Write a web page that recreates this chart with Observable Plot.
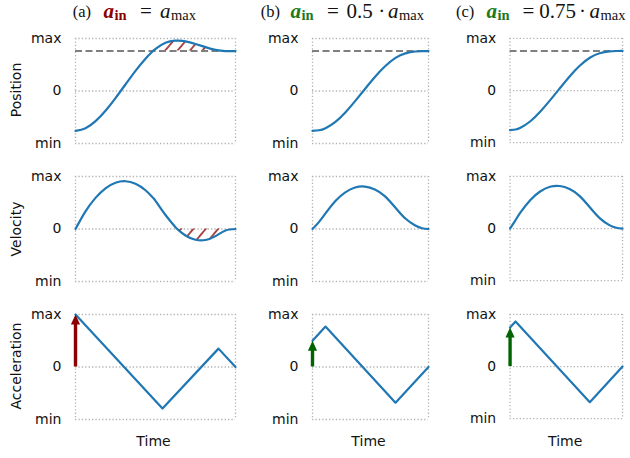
<!DOCTYPE html>
<html><head><meta charset="utf-8">
<script src="https://cdn.jsdelivr.net/npm/d3@7"></script>
<script src="https://cdn.jsdelivr.net/npm/@observablehq/plot@0.6"></script>
<style>
body{margin:0;background:#fff;}
#wrap{position:relative;width:630px;height:458px;overflow:hidden;font-family:"DejaVu Sans",sans-serif;background:#fff;}
.lab{position:absolute;font-size:14px;color:#111;white-space:nowrap;transform:translate(-50%,-50%);}
.ylab{position:absolute;font-size:14px;color:#111;white-space:nowrap;transform:translate(-50%,-50%) rotate(-90deg);}
.tp{position:absolute;font-family:"Liberation Serif",serif;white-space:nowrap;line-height:1.2;color:#111;font-size:21px;top:-1.2px;}
.tp.pre{font-size:16.5px;top:2.4px;}
.tp.ctr{transform:translateX(-50%);}
.sb{font-size:14.5px;position:relative;top:2.6px;margin-left:0.5px;}
.cell{position:absolute;}
</style></head><body><div id="wrap"></div>
<script>
// ---------- data ----------
const rowNames = ["Position", "Velocity", "Acceleration"];
const yTickValues = [-1, 0, 1];
const yTickLabels = ["min", "0", "max"];
const xLabel = "Time";
const titlePrefix = ["(a)", "(b)", "(c)"];
const titleFactor = ["", "0.5", "0.75"];
const accentColors = ["#8b0000", "#006400", "#006400"];
const titleColors = ["#8b0000", "#1b7a1b", "#1b7a1b"];
const durations = [160, 116, 113];
const targetPosition = 0.76;
const initialAcc = [1.0, 0.5, 0.75];

// panel (a)
const timeA = [0, 10, 20, 30, 40, 50, 60, 70, 77.4, 80, 90, 100, 101.75, 110, 120, 130, 140, 150, 160];
const posA  = [-0.76, -0.710, -0.574, -0.375, -0.134, 0.126, 0.384, 0.616, 0.760, 0.802, 0.919, 0.960, 0.961, 0.945, 0.896, 0.835, 0.783, 0.760, 0.760];
const velA  = [0, 0.335, 0.593, 0.775, 0.881, 0.910, 0.862, 0.738, 0.597, 0.537, 0.266, 0.033, 0, -0.124, -0.205, -0.209, -0.136, -0.027, 0];
const accTimeA = [0, 87, 143, 160];
const accA     = [1.0, -0.79, 0.35, 0];
const posHatchStartA = 77.4;
const velHatchStartA = 101.75;

// panel (b)
const timeB = [0, 6.4, 13.0, 22.9, 32.8, 42.6, 52.5, 62.4, 72.3, 83.0, 92.9, 102.8, 109.7, 116];
const posB  = [-0.76, -0.748, -0.708, -0.587, -0.408, -0.192, 0.039, 0.266, 0.466, 0.630, 0.716, 0.752, 0.759, 0.76];
const velB  = [0, 0.131, 0.297, 0.534, 0.698, 0.790, 0.808, 0.754, 0.627, 0.405, 0.199, 0.065, 0.015, 0];
const accTimeB = [0, 13, 83, 116];
const accB     = [0.5, 0.77, -0.68, 0];

// panel (c)
const timeC = [0, 5.5, 10.5, 20.4, 30.2, 40.1, 50.0, 59.8, 69.7, 80.1, 90.0, 99.8, 106.8, 113];
const posC  = [-0.76, -0.747, -0.713, -0.589, -0.407, -0.189, 0.044, 0.271, 0.471, 0.629, 0.715, 0.751, 0.759, 0.76];
const velC  = [0, 0.163, 0.310, 0.547, 0.711, 0.801, 0.817, 0.760, 0.628, 0.410, 0.201, 0.066, 0.016, 0];
const accTimeC = [0, 5.5, 80.1, 113];
const accC     = [0.75, 0.865, -0.683, 0];

// ---------- layout ----------
const colLeft = [75, 312, 510];
const colWidth = [160, 116, 113.3];
const rowTop = [37.5, 176.2, 313.5];
const rowH = 105;
const ML = 60, MR = 8, MT = 8, MB = 8;

const wrap = document.getElementById("wrap");

// hatch pattern defs
const defs = document.createElementNS("http://www.w3.org/2000/svg", "svg");
defs.setAttribute("width", "0"); defs.setAttribute("height", "0");
defs.style.position = "absolute";
defs.innerHTML = `<defs><pattern id="hatch" patternUnits="userSpaceOnUse" width="9.5" height="9.5" patternTransform="rotate(40)">
<line x1="4.75" y1="0" x2="4.75" y2="9.5" stroke="#8b0000" stroke-width="1.4"/></pattern></defs>`;
wrap.appendChild(defs);

const zip = (ts, vs) => ts.map((t, i) => ({t, v: vs[i]}));
const series = [
  [zip(timeA, posA), zip(timeA, velA), zip(accTimeA, accA)],
  [zip(timeB, posB), zip(timeB, velB), zip(accTimeB, accB)],
  [zip(timeC, posC), zip(timeC, velC), zip(accTimeC, accC)]
];

const arrowHead = {
  draw(ctx) { ctx.moveTo(0, 0); ctx.lineTo(-4.6, 10); ctx.lineTo(4.6, 10); ctx.closePath(); }
};

const grid = {stroke: "#b3b3b3", strokeWidth: 1.3, strokeDasharray: "1.3,2.1"};

for (let c = 0; c < 3; c++) {
  for (let r = 0; r < 3; r++) {
    const T = durations[c];
    const data = series[c][r];
    const marks = [
      Plot.ruleY(yTickValues, grid),
      Plot.ruleX([0, T], grid)
    ];
    if (c === 0 && r === 0) {
      marks.push(Plot.areaY(data.filter(d => d.t >= posHatchStartA), {x: "t", y1: targetPosition, y2: "v", fill: "url(#hatch)", curve: "natural"}));
    }
    if (c === 0 && r === 1) {
      marks.push(Plot.areaY(data.filter(d => d.t >= velHatchStartA), {x: "t", y1: 0, y2: "v", fill: "url(#hatch)", curve: "natural"}));
    }
    if (r === 0) {
      marks.push(Plot.ruleY([targetPosition], {stroke: "#7f7f7f", strokeWidth: 2, strokeDasharray: "7,3.5"}));
    }
    marks.push(Plot.line(data, {x: "t", y: "v", stroke: "#1f77b4", strokeWidth: 2.2, curve: r === 2 ? "linear" : "natural"}));
    if (r === 2) {
      const arr = [{t: 0, v: initialAcc[c]}];
      marks.push(Plot.ruleX(arr, {x: "t", y1: "v", y2: 0, stroke: accentColors[c], strokeWidth: 3.4, insetTop: 8}));
      marks.push(Plot.dot(arr, {x: "t", y: "v", symbol: arrowHead, r: 5, fill: accentColors[c], stroke: "none"}));
    }
    const svg = Plot.plot({
      width: colWidth[c] + ML + MR,
      height: rowH + MT + MB,
      marginLeft: ML, marginRight: MR, marginTop: MT, marginBottom: MB,
      x: {domain: [0, T], axis: null},
      y: {domain: [-1, 1], ticks: yTickValues, tickFormat: d => yTickLabels[yTickValues.indexOf(d)], tickSize: 0, tickPadding: 14, label: null},
      style: {background: "transparent", overflow: "visible", fontFamily: "DejaVu Sans", fontSize: "14px", color: "#111"},
      marks
    });
    const div = document.createElement("div");
    div.className = "cell";
    div.style.left = (colLeft[c] - ML) + "px";
    div.style.top = (rowTop[r] - MT) + "px";
    div.appendChild(svg);
    wrap.appendChild(div);
  }
}

// y labels
const rowZero = rowTop.map(t => t + rowH / 2);
rowNames.forEach((name, r) => {
  const d = document.createElement("div");
  d.className = "ylab";
  d.textContent = name;
  d.style.left = "16px";
  d.style.top = rowZero[r] + "px";
  wrap.appendChild(d);
});

// x labels
for (let c = 0; c < 3; c++) {
  const d = document.createElement("div");
  d.className = "lab";
  d.textContent = xLabel;
  d.style.left = (colLeft[c] + colWidth[c] / 2 - 1.5) + "px";
  d.style.top = "441px";
  wrap.appendChild(d);
}

// titles: groups placed left to right (ctr = centred on the given x)
const pieceX = [
  {pre: 72.7, ain: 103.5, eq: 146, fac: null, dot: null, amax: 160},
  {pre: 260.7, ain: 290.5, eq: 333, fac: 359.7, dot: 381.7, amax: 388},
  {pre: 456, ain: 486.5, eq: 528.3, fac: 557.5, dot: 582.5, amax: 589.5}
];
function piece(html, x, cls) {
  const s = document.createElement("span");
  s.className = "tp " + cls;
  s.style.left = x + "px";
  s.innerHTML = html;
  wrap.appendChild(s);
}
for (let c = 0; c < 3; c++) {
  const p = pieceX[c];
  piece(titlePrefix[c], p.pre, "pre");
  piece(`<span style="color:${titleColors[c]};font-weight:bold;font-style:italic">a</span><span class="sb" style="color:${titleColors[c]};font-weight:bold">in</span>`, p.ain, "");
  piece("=", p.eq, "ctr");
  if (titleFactor[c]) {
    piece(titleFactor[c], p.fac, "ctr");
    piece("·", p.dot, "ctr");
  }
  piece(`<i>a</i><span class="sb">max</span>`, p.amax, "");
}
</script></body></html>
